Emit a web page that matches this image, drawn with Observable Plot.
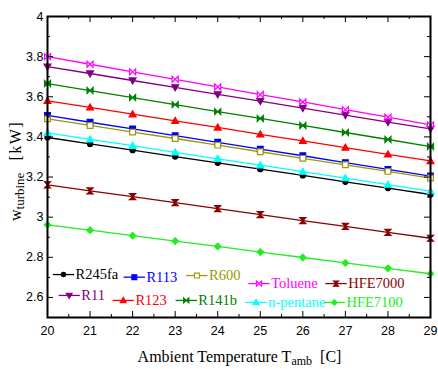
<!DOCTYPE html>
<html><head><meta charset="utf-8">
<script src="https://cdn.jsdelivr.net/npm/d3@7"></script>
<script src="https://cdn.jsdelivr.net/npm/@observablehq/plot@0.6"></script>
<style>body{margin:0;background:#fff}#c{width:438px;height:369px}</style>
</head><body><div id="c"></div>
<script>
const temps = [20,21,22,23,24,25,26,27,28,29];
const R245fa   = [3.397,3.365,3.334,3.302,3.271,3.239,3.208,3.176,3.145,3.113];
const R11      = [3.750,3.716,3.681,3.647,3.612,3.578,3.543,3.509,3.474,3.440];
const R113     = [3.507,3.473,3.440,3.406,3.373,3.339,3.306,3.272,3.238,3.205];
const R123     = [3.580,3.547,3.513,3.480,3.447,3.413,3.380,3.347,3.313,3.280];
const R600     = [3.490,3.457,3.424,3.392,3.359,3.326,3.293,3.261,3.228,3.195];
const R141b    = [3.666,3.631,3.596,3.561,3.526,3.492,3.457,3.422,3.387,3.352];
const Toluene  = [3.800,3.762,3.724,3.687,3.649,3.611,3.574,3.536,3.498,3.460];
const nPentane = [3.420,3.388,3.356,3.323,3.291,3.259,3.227,3.195,3.162,3.130];
const HFE7000  = [3.161,3.131,3.102,3.072,3.043,3.013,2.983,2.954,2.924,2.895];
const HFE7100  = [2.962,2.935,2.908,2.881,2.854,2.826,2.799,2.772,2.745,2.718];

const seriesNames = ["R245fa","R11","R113","R123","R600","R141b","Toluene","n-pentane","HFE7000","HFE7100"];
const seriesValues = [R245fa,R11,R113,R123,R600,R141b,Toluene,nPentane,HFE7000,HFE7100];
const seriesColors = ["#000000","#800080","#0000FF","#FF0000","#999900","#008000","#FF00FF","#00FFFF","#8B0000","#22EE22"];

const yTicks = [2.6,2.8,3,3.2,3.4,3.6,3.8,4];
const yTickLabels = ["2.6","2.8","3","3.2","3.4","3.6","3.8","4"];
const yMinor = [2.5,2.7,2.9,3.1,3.3,3.5,3.7,3.9];
const xTicks = temps;
const xMinor = [20.5,21.5,22.5,23.5,24.5,25.5,26.5,27.5,28.5];

// legend anchors (data units: temperature, kW)
const legendX = [20.125,20.26,21.79,21.53,23.26,23.01,24.72,24.65,26.53,26.49];
const legendY = [2.714,2.610,2.701,2.585,2.709,2.585,2.669,2.575,2.669,2.575];

// custom symbols
const sz = s => Math.sqrt(s/Math.PI);
const symTriDown = {draw(c,s){const r=sz(s)*1.15;c.moveTo(-r,-r*0.75);c.lineTo(r,-r*0.75);c.lineTo(0,r);c.closePath();}};
const symTriUp = {draw(c,s){const r=sz(s)*1.15;c.moveTo(-r,r*0.75);c.lineTo(r,r*0.75);c.lineTo(0,-r);c.closePath();}};
const symSquare = {draw(c,s){const r=sz(s)*0.95;c.moveTo(-r,-r);c.lineTo(r,-r);c.lineTo(r,r);c.lineTo(-r,r);c.closePath();}};
const symBowtie = {draw(c,s){const r=sz(s);c.moveTo(-r,-r);c.lineTo(r,r);c.lineTo(r,-r);c.lineTo(-r,r);c.closePath();}};
const symHour = {draw(c,s){const r=sz(s);c.moveTo(-r,-r);c.lineTo(r,-r);c.lineTo(-r,r);c.lineTo(r,r);c.closePath();}};
const symDiamond = {draw(c,s){const r=sz(s)*1.1;c.moveTo(0,-r);c.lineTo(r,0);c.lineTo(0,r);c.lineTo(-r,0);c.closePath();}};
const symCircle = {draw(c,s){const r=sz(s)*0.85;c.moveTo(r,0);c.arc(0,0,r,0,2*Math.PI);}};

const seriesSym = [symCircle,symTriDown,symSquare,symTriUp,symSquare,symBowtie,symBowtie,symTriUp,symHour,symDiamond];
const seriesFill = [null,null,null,null,"white",null,"white",null,null,null];

const rows = [];
seriesNames.forEach((n,i)=>temps.forEach((t,j)=>rows.push({series:n,t,w:seriesValues[i][j],i})));

const W=438,H=369,mL=47,mR=8,mT=16,mB=52,pw=W-mL-mR,ph=H-mT-mB;
const tickFont = "'Liberation Sans', Arial, sans-serif";
const serif = "'Liberation Serif', 'Times New Roman', serif";

const marks = [];
seriesNames.forEach((n,i)=>{
  const d = rows.filter(r=>r.i===i);
  marks.push(Plot.line(d,{x:"t",y:"w",stroke:seriesColors[i],strokeWidth:1.3}));
  marks.push(Plot.dot(d,{x:"t",y:"w",r:3,symbol:seriesSym[i],stroke:seriesColors[i],strokeWidth:1.2,fill:seriesFill[i]||seriesColors[i]}));
  const L = [{x:legendX[i],y:legendY[i]}];
  marks.push(Plot.link(L,{x1:"x",x2:d=>d.x+0.5,y1:"y",y2:"y",stroke:seriesColors[i],strokeWidth:1.3}));
  marks.push(Plot.dot(L,{x:d=>d.x+0.25,y:"y",r:2.6,symbol:seriesSym[i],stroke:seriesColors[i],strokeWidth:1.1,fill:seriesFill[i]||seriesColors[i]}));
  marks.push(Plot.text(L,{x:d=>d.x+0.5,y:"y",dx:1.5,text:()=>n,textAnchor:"start",fill:seriesColors[i],fontSize:14.5,fontFamily:serif}));
});

const chart = Plot.plot({
  width:W,height:H,marginLeft:mL,marginRight:mR,marginTop:mT,marginBottom:mB,
  style:{background:"white",overflow:"visible",fontFamily:tickFont},
  x:{domain:[20,29]},
  y:{domain:[2.5,4]},
  marks:[
    ...marks,
    Plot.tickY(yTicks,{insetRight:pw-6,stroke:"black"}),
    Plot.tickY(yTicks,{insetLeft:pw-6,stroke:"black"}),
    Plot.tickY(yMinor,{insetRight:pw-3,stroke:"black"}),
    Plot.tickY(yMinor,{insetLeft:pw-3,stroke:"black"}),
    Plot.tickX(xTicks,{insetTop:ph-6,stroke:"black"}),
    Plot.tickX(xTicks,{insetBottom:ph-6,stroke:"black"}),
    Plot.tickX(xMinor,{insetTop:ph-3,stroke:"black"}),
    Plot.tickX(xMinor,{insetBottom:ph-3,stroke:"black"}),
    Plot.axisY({ticks:yTicks,tickSize:0,tickPadding:4,label:null,fontSize:12.5,fontFamily:tickFont,tickFormat:d=>yTickLabels[yTicks.indexOf(d)]}),
    Plot.axisX({ticks:xTicks,tickSize:0,tickPadding:9,label:null,fontSize:12.5,fontFamily:tickFont}),
    Plot.frame({stroke:"black",strokeWidth:2})
  ]
});
document.getElementById("c").appendChild(chart);

const svg = d3.select(chart);
// x label
const xl = svg.append("text").attr("x",mL+pw/2+1).attr("y",362).attr("text-anchor","middle")
  .style("font-family",serif).attr("font-size",16).attr("fill","black");
xl.append("tspan").text("Ambient Temperature T");
xl.append("tspan").attr("font-size",12).attr("dy",3).text("amb");
xl.append("tspan").attr("dy",-3).attr("dx",8).text("[C]");
// y label
const yl = svg.append("text").attr("transform","translate(21,221) rotate(-90)").attr("text-anchor","start")
  .style("font-family",serif).attr("font-size",16).attr("fill","black");
yl.append("tspan").text("w");
yl.append("tspan").attr("font-size",13).attr("dy",3).text("turbine");
yl.append("tspan").attr("dy",-3).attr("dx",12).attr("letter-spacing",1.5).text("[kW]");
</script>
</body></html>
